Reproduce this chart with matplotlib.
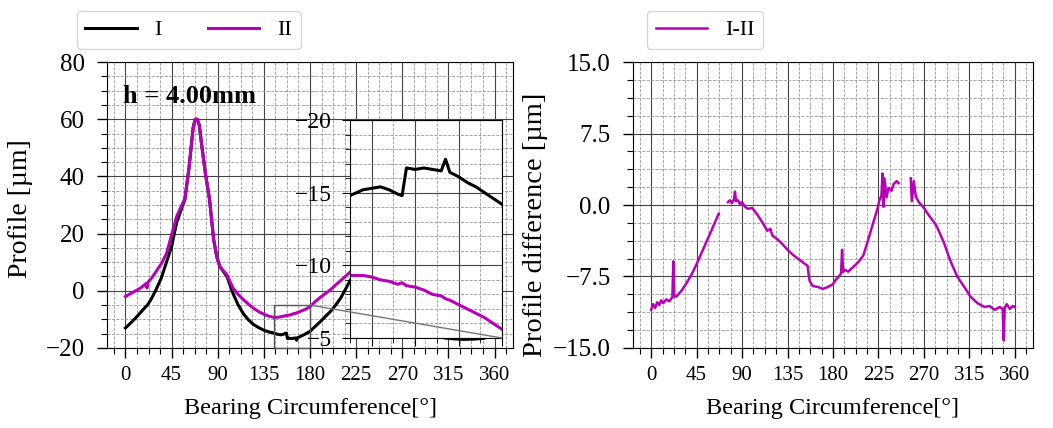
import numpy as np
import matplotlib
matplotlib.use("Agg")
import matplotlib.pyplot as plt
from matplotlib.ticker import MultipleLocator, AutoMinorLocator
from matplotlib.patches import ConnectionPatch

plt.rcParams['font.family'] = ['Liberation Serif', 'DejaVu Serif']
plt.rcParams['font.size'] = 15

# measured profiles (deg, um)
theta = [0, 5, 10, 15, 20, 21, 22, 25, 30, 35, 40, 45, 50, 55, 58, 62, 66, 68, 70, 72,
         74, 78, 82, 86, 89, 92, 96, 99, 102, 105, 110, 115, 120, 125, 130, 135, 140,
         145, 148, 150, 152, 154, 156, 157, 158, 160, 162, 164, 166, 167, 168, 170, 172,
         174, 176, 178, 180, 185, 190, 195, 200, 205, 210, 215, 220, 230, 240, 250, 255,
         260, 270, 285, 300, 305, 311, 320, 330, 340, 350, 355, 360]
prof_I = [-13.0, -11.3, -9.5, -7.5, -5.5, -5.2, -4.7, -3.0, 0.5, 4.5, 10.0, 15.5, 24.0,
          29.0, 32.0, 43.0, 57.0, 60.0, 60.0, 58.0, 52.0, 41.0, 32.0, 18.0, 12.0, 8.5,
          6.5, 5.0, 2.0, -1.0, -5.0, -8.0, -10.2, -11.8, -12.9, -13.8, -14.4, -14.8,
          -15.2, -15.3, -15.4, -15.2, -14.9, -14.8, -16.7, -16.6, -16.7, -16.6, -16.5,
          -17.3, -16.4, -16.1, -15.7, -15.4, -15.0, -14.6, -14.2, -12.5, -10.8, -9.0,
          -7.2, -5.0, -2.5, 0.8, 4.2, 10.0, 19.0, 36.0, 48.0, 34.0, 15.0, 3.0, -8.0,
          -12.0, -16.5, -16.8, -17.0, -16.9, -16.6, -15.0, -13.0]
prof_II = [-2.0, -1.0, 0.0, 1.0, 2.5, 1.0, 3.0, 4.2, 6.8, 9.5, 13.0, 19.5, 26.0, 30.0,
           32.3, 43.0, 57.0, 60.0, 60.0, 58.0, 52.0, 41.0, 32.0, 18.0, 12.0, 8.5, 6.8,
           5.6, 3.2, 0.9, -1.3, -3.1, -4.7, -6.1, -7.3, -8.2, -8.9, -9.3, -9.3, -9.2,
           -9.0, -8.9, -8.7, -8.8, -8.6, -8.5, -8.3, -8.0, -7.9, -7.7, -7.6, -7.3, -7.0,
           -6.7, -6.4, -6.0, -5.6, -3.8, -2.3, -1.0, 0.4, 2.0, 3.6, 5.2, 6.8, 10.0, 18.0,
           35.0, 48.0, 33.0, 16.0, 6.0, -1.0, -3.0, -5.0, -6.0, -6.3, -6.0, -5.8, -4.0,
           -2.0]

# difference I-II (nan = no data)
theta_d = [0, 2, 4, 6, 8, 10, 12, 15, 18, 20, 21, 22, 23, 25, 30, 35, 40, 45, 50, 55, 60,
           64, 67, 70, 76, 78, 80, 82, 83, 84, 86, 88, 90, 93, 96, 100, 105, 110, 115, 118,
           120, 125, 130, 135, 140, 145, 150, 155, 156, 157, 160, 165, 170, 175, 180, 183,
           185, 188, 189, 190, 192, 195, 200, 205, 210, 215, 220, 224, 226, 228, 229, 230,
           231, 233, 235, 238, 240, 243, 245, 250, 257, 258, 260, 262, 265, 270, 275, 280,
           283, 290, 296, 303, 310, 316, 323, 330, 335, 340, 345, 348, 349, 350, 352, 355,
           358, 360]
diff = [-11.0, -10.4, -10.8, -10.2, -10.5, -10.0, -10.3, -9.9, -10.1, -9.8, -9.7, -5.9,
        -9.6, -9.6, -9.0, -8.2, -7.3, -6.2, -5.0, -3.8, -2.6, -1.6, -0.9, np.nan, 0.3, 0.5,
        0.2, 0.6, 1.4, 0.4, 0.5, 0.1, 0.3, -0.2, -0.4, -0.3, -1.0, -1.8, -2.7, -2.5, -3.2,
        -3.6, -4.1, -4.7, -5.2, -5.6, -6.0, -6.4, -7.4, -8.0, -8.5, -8.6, -8.8, -8.6, -8.3,
        -7.8, -7.6, -7.2, -4.7, -7.0, -6.8, -7.0, -6.5, -6.0, -5.3, -3.6, -1.8, -0.4, 0.5,
        1.0, 3.3, -0.2, 2.8, 0.8, 1.8, 1.5, 2.2, 2.5, 2.3, np.nan, 2.8, 0.4, 2.5, 0.9, 0.3,
        -0.3, -1.1, -1.8, -2.3, -4.0, -5.8, -7.5, -8.6, -9.6, -10.3, -10.7, -10.6, -11.0,
        -10.7, -10.9, -14.2, -10.8, -10.4, -10.9, -10.6, -10.7]

purple = '#b800b8'

def style(ax):
    ax.xaxis.set_major_locator(MultipleLocator(45))
    ax.xaxis.set_minor_locator(AutoMinorLocator())
    ax.yaxis.set_minor_locator(AutoMinorLocator())
    ax.grid(which='major', color='#444444', lw=0.8)
    ax.grid(which='minor', color='#999999', lw=0.6, ls='--')
    ax.set_axisbelow(True)
    ax.set_xlim(-18, 378)
    ax.tick_params(which='major', length=7, width=1, pad=6)
    ax.tick_params(which='minor', length=4, width=0.8)
    ax.tick_params(axis='x', labelsize=15)
    ax.tick_params(axis='y', labelsize=18, pad=9)
    ax.set_xlabel('Bearing Circumference[°]', fontsize=17.5, labelpad=9)

fig = plt.figure(figsize=(10.53, 4.28), dpi=100)
ax1 = fig.add_axes([0.1016, 0.187, 0.3856, 0.668])
ax2 = fig.add_axes([0.6011, 0.187, 0.3799, 0.668])

ax1.plot(theta, prof_I, color='k', lw=2.2, label='I')
ax1.plot(theta, prof_II, color=purple, lw=2.2, label='II')
style(ax1)
ax1.set_ylim(-20, 80)
ax1.yaxis.set_major_locator(MultipleLocator(20))
ax1.set_ylabel('Profile [µm]', fontsize=20)
ax1.yaxis.set_label_coords(-0.182, 0.486)
ax1.text(0.04, 0.88, 'h = 4.00mm', transform=ax1.transAxes, fontweight='bold',
         va='center', fontsize=19)
ax1.legend(loc='lower left', bbox_to_anchor=(-0.075, 1.045), ncol=2, borderaxespad=0,
           handlelength=2.3, columnspacing=2.1, fontsize=16)

# zoom window
axins = fig.add_axes([0.3324, 0.2103, 0.1443, 0.5093])
axins.plot(theta, prof_I, color='k', lw=2.2)
axins.plot(theta, prof_II, color=purple, lw=2.2)
axins.set_xlim(145, 180)
axins.set_ylim(-5, -20)
axins.xaxis.set_major_locator(MultipleLocator(10))
axins.xaxis.set_minor_locator(AutoMinorLocator(2))
axins.yaxis.set_major_locator(MultipleLocator(5))
axins.yaxis.set_minor_locator(AutoMinorLocator(5))
axins.grid(which='major', color='#444444', lw=0.8)
axins.grid(which='minor', color='#999999', lw=0.6, ls='--')
axins.tick_params(which='major', labelsize=17, length=6, pad=7)
axins.tick_params(which='minor', length=3.5)
axins.set_xticklabels([])
ind = ax1.indicate_inset_zoom(axins, edgecolor='#555555', alpha=1, lw=1)
for c in ind.connectors:
    c.set_visible(False)
xl = axins.get_xlim()
yl = axins.get_ylim()
con = ConnectionPatch(xyA=(xl[1], yl[0]), coordsA=ax1.transData,
                      xyB=(xl[1], yl[0]), coordsB=axins.transData,
                      color='#777777', lw=1, zorder=10)
fig.add_artist(con)

ax2.plot(theta_d, diff, color=purple, lw=1.8, label='I-II')
style(ax2)
ax2.set_ylim(-15, 15)
ax2.yaxis.set_major_locator(MultipleLocator(7.5))
ax2.set_ylabel('Profile difference [µm]', fontsize=20.5)
ax2.yaxis.set_label_coords(-0.2125, 0.43)
ax2.legend(loc='lower left', bbox_to_anchor=(0.035, 1.045), borderaxespad=0,
           handlelength=2.3, fontsize=16)

fig.savefig('out.png', dpi=100)
